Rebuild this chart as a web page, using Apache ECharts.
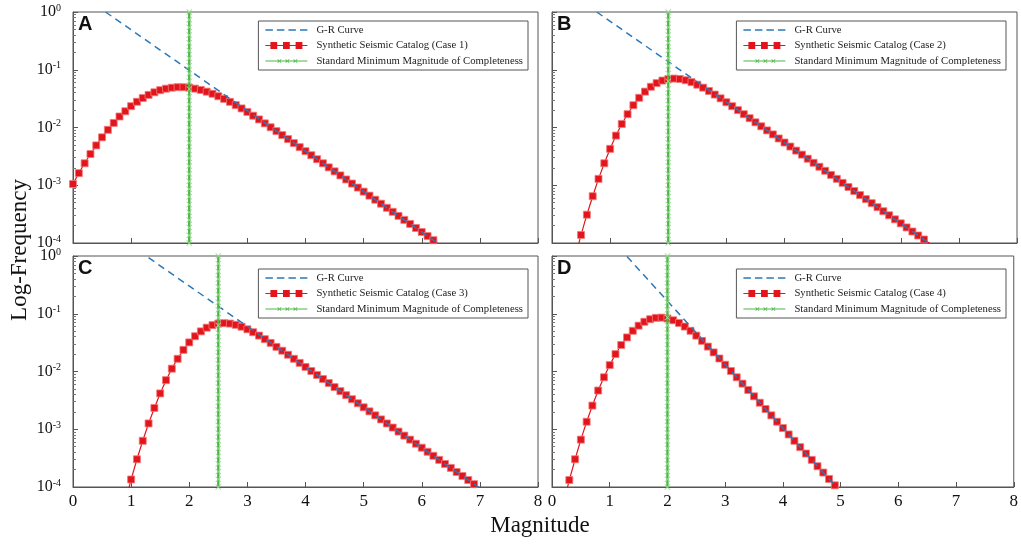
<!DOCTYPE html>
<html>
<head>
<meta charset="utf-8">
<title>Log-Frequency vs Magnitude</title>
<script src="https://cdn.jsdelivr.net/npm/echarts@6/dist/echarts.min.js"></script>
<style>
  html, body { margin: 0; padding: 0; background: #fff; }
  #chart { width: 1021px; height: 545px; }
</style>
</head>
<body>
<div id="chart"></div>
<script>
// magnitude grid shared by all four cases (step 0.1)
var magnitudes = [
    0.0, 0.1, 0.2, 0.3, 0.4, 0.5, 0.6, 0.7, 0.8, 0.9,
    1.0, 1.1, 1.2, 1.3, 1.4, 1.5, 1.6, 1.7, 1.8, 1.9,
    2.0, 2.1, 2.2, 2.3, 2.4, 2.5, 2.6, 2.7, 2.8, 2.9,
    3.0, 3.1, 3.2, 3.3, 3.4, 3.5, 3.6, 3.7, 3.8, 3.9,
    4.0, 4.1, 4.2, 4.3, 4.4, 4.5, 4.6, 4.7, 4.8, 4.9,
    5.0, 5.1, 5.2, 5.3, 5.4, 5.5, 5.6, 5.7, 5.8, 5.9,
    6.0, 6.1, 6.2, 6.3, 6.4, 6.5, 6.6, 6.7, 6.8, 6.9, 7.0
];

// synthetic catalogs, frequency per magnitude bin (first value sits at the given start index)
var catalogA_start = 0;   // M = 0.0
var catalogA = [
    1.05e-3, 1.62e-3, 2.40e-3, 3.47e-3, 4.90e-3, 6.76e-3, 9.12e-3, 1.20e-2, 1.55e-2, 1.91e-2,
    2.34e-2, 2.79e-2, 3.24e-2, 3.67e-2, 4.07e-2, 4.43e-2, 4.70e-2, 4.89e-2, 4.99e-2, 4.98e-2,
    4.89e-2, 4.71e-2, 4.47e-2, 4.17e-2, 3.84e-2, 3.48e-2, 3.13e-2, 2.78e-2, 2.44e-2, 2.14e-2,
    1.86e-2, 1.60e-2, 1.38e-2, 1.18e-2, 1.01e-2, 8.65e-3, 7.38e-3, 6.30e-3, 5.37e-3, 4.57e-3,
    3.89e-3, 3.31e-3, 2.82e-3, 2.40e-3, 2.04e-3, 1.74e-3, 1.48e-3, 1.26e-3, 1.07e-3, 9.12e-4,
    7.76e-4, 6.61e-4, 5.62e-4, 4.79e-4, 4.07e-4, 3.47e-4, 2.95e-4, 2.51e-4, 2.14e-4, 1.82e-4,
    1.55e-4, 1.32e-4, 1.12e-4, 9.55e-5
];
var catalogB_start = 4;   // M = 0.4
var catalogB = [
    5.75e-5, 1.38e-4, 3.09e-4, 6.46e-4, 1.29e-3, 2.40e-3,
    4.27e-3, 7.24e-3, 1.15e-2, 1.70e-2, 2.43e-2, 3.27e-2, 4.18e-2, 5.07e-2, 5.87e-2, 6.50e-2,
    6.90e-2, 7.03e-2, 6.92e-2, 6.58e-2, 6.10e-2, 5.51e-2, 4.90e-2, 4.29e-2, 3.72e-2, 3.20e-2,
    2.74e-2, 2.34e-2, 2.00e-2, 1.70e-2, 1.45e-2, 1.23e-2, 1.05e-2, 8.91e-3, 7.59e-3, 6.46e-3,
    5.50e-3, 4.68e-3, 3.98e-3, 3.39e-3, 2.88e-3, 2.45e-3, 2.09e-3, 1.78e-3, 1.51e-3, 1.29e-3,
    1.10e-3, 9.33e-4, 7.94e-4, 6.76e-4, 5.75e-4, 4.90e-4, 4.17e-4, 3.55e-4, 3.02e-4, 2.57e-4,
    2.19e-4, 1.86e-4, 1.58e-4, 1.35e-4, 1.15e-4, 9.77e-5
];
var catalogC_start = 9;   // M = 0.9
var catalogC = [
    5.62e-5,
    1.35e-4, 3.02e-4, 6.31e-4, 1.26e-3, 2.34e-3, 4.17e-3, 7.08e-3, 1.12e-2, 1.66e-2, 2.37e-2,
    3.19e-2, 4.08e-2, 4.95e-2, 5.74e-2, 6.35e-2, 6.75e-2, 6.87e-2, 6.76e-2, 6.43e-2, 5.96e-2,
    5.38e-2, 4.79e-2, 4.19e-2, 3.63e-2, 3.13e-2, 2.67e-2, 2.29e-2, 1.95e-2, 1.66e-2, 1.41e-2,
    1.20e-2, 1.02e-2, 8.71e-3, 7.41e-3, 6.31e-3, 5.37e-3, 4.57e-3, 3.89e-3, 3.31e-3, 2.82e-3,
    2.40e-3, 2.04e-3, 1.74e-3, 1.48e-3, 1.26e-3, 1.07e-3, 9.12e-4, 7.76e-4, 6.61e-4, 5.62e-4,
    4.79e-4, 4.07e-4, 3.47e-4, 2.95e-4, 2.51e-4, 2.14e-4, 1.82e-4, 1.55e-4, 1.32e-4, 1.12e-4,
    9.55e-5
];
var catalogD_start = 2;   // M = 0.2
var catalogD = [
    5.37e-5, 1.32e-4, 3.02e-4, 6.61e-4, 1.35e-3, 2.57e-3, 4.68e-3, 7.94e-3,
    1.29e-2, 2.00e-2, 2.88e-2, 3.89e-2, 5.07e-2, 6.22e-2, 7.26e-2, 8.04e-2, 8.49e-2, 8.57e-2,
    8.30e-2, 7.71e-2, 6.92e-2, 6.00e-2, 5.07e-2, 4.18e-2, 3.39e-2, 2.70e-2, 2.14e-2, 1.68e-2,
    1.31e-2, 1.02e-2, 7.94e-3, 6.17e-3, 4.79e-3, 3.72e-3, 2.88e-3, 2.24e-3, 1.74e-3, 1.35e-3,
    1.05e-3, 8.13e-4, 6.31e-4, 4.90e-4, 3.80e-4, 2.95e-4, 2.29e-4, 1.78e-4, 1.38e-4, 1.07e-4,
    8.32e-5
];

// G-R curves: [magnitude, frequency] end points of the straight log-linear line
var grA = [[0.56, 1.0], [6.3, 9.55e-5]];
var grB = [[0.77, 1.0], [6.5, 9.77e-5]];
var grC = [[1.3, 0.933], [7.0, 9.55e-5]];
var grD = [[1.3, 0.977], [5.0, 8.32e-5]];

// minimum magnitude of completeness per case
var mcValues = [2.0, 2.0, 2.5, 2.0];
// frequency levels of the markers along the Mc line
var mcLevels = [
    1.0, 0.736, 0.541, 0.398, 0.293, 0.215, 0.158, 0.117, 0.0858, 0.0631,
    0.0464, 0.0341, 0.0251, 0.0185, 0.0136, 0.01, 0.00736, 0.00541, 0.00398, 0.00293,
    0.00215, 0.00158, 0.00117, 0.000858, 0.000631, 0.000464, 0.000341, 0.000251, 0.000185, 0.000136,
    0.0001
];

var panelLabels = ['A', 'B', 'C', 'D'];
var caseNames = [
    'Synthetic Seismic Catalog (Case 1)',
    'Synthetic Seismic Catalog (Case 2)',
    'Synthetic Seismic Catalog (Case 3)',
    'Synthetic Seismic Catalog (Case 4)'
];
var grName = 'G-R Curve';
var mcName = 'Standard Minimum Magnitude of Completeness';
var xTicks = [0, 1, 2, 3, 4, 5, 6, 7, 8];

var catalogs = [catalogA, catalogB, catalogC, catalogD];
var starts = [catalogA_start, catalogB_start, catalogC_start, catalogD_start];
var grs = [grA, grB, grC, grD];

var SERIF = '"Liberation Serif", "Times New Roman", serif';
var RED = '#e2151c';
var BLUE = '#2b78b8';
var GREEN = '#4db748';
var AXIS = '#555';

// layout of the 2x2 panels
var panels = [
    { left: 73,  top: 12,  legendRight: 493, legendTop: 21 },
    { left: 552, top: 12,  legendRight: 15,  legendTop: 21 },
    { left: 73,  top: 256, legendRight: 493, legendTop: 269 },
    { left: 552, top: 256, legendRight: 15,  legendTop: 269 }
];
var panelW = 465, panelH = 231;

var xMark = 'path://M0,1L1,0L5,4L9,0L10,1L6,5L10,9L9,10L5,6L1,10L0,9L4,5Z';

function smallX(cx) {
    var p = [[-2, -1.6], [-1.6, -2], [0, -0.4], [1.6, -2], [2, -1.6], [0.4, 0],
             [2, 1.6], [1.6, 2], [0, 0.4], [-1.6, 2], [-2, 1.6], [-0.4, 0]];
    return 'M' + p.map(function (q) { return (cx + q[0]) + ',' + (5 + q[1]); }).join('L') + 'Z';
}
var iconGR = 'path://M0,0M42,10M0,4.2h7.5v1.6h-7.5zM11.5,4.2h7.5v1.6h-7.5zM23,4.2h7.5v1.6h-7.5zM34.5,4.2h7.5v1.6h-7.5z';
var iconCat = 'path://M0,0M42,10M0,4.4h42v1.2h-42zM5,1.6h6.8v6.8h-6.8zM17.6,1.6h6.8v6.8h-6.8zM30.2,1.6h6.8v6.8h-6.8z';
var iconMc = 'path://M0,0M42,10M0,4.5h42v1h-42z' + smallX(14) + smallX(22) + smallX(30);

var grids = [], xAxes = [], yAxes = [], series = [], legends = [], titles = [];

panels.forEach(function (p, i) {
    var bottomRow = i >= 2;
    var leftCol = i % 2 === 0;

    grids.push({
        left: p.left, top: p.top, width: panelW, height: panelH,
        show: true, borderColor: AXIS, borderWidth: 1, backgroundColor: '#fff'
    });

    xAxes.push({
        type: 'value', gridIndex: i, min: 0, max: 8, interval: 1,
        axisLine: { show: true, lineStyle: { color: AXIS } },
        axisTick: { show: true, inside: true, length: 5, lineStyle: { color: AXIS } },
        axisLabel: {
            show: bottomRow, fontFamily: SERIF, fontSize: 17, color: '#111', margin: 6,
            formatter: function (v) { return xTicks.indexOf(v) >= 0 ? String(v) : ''; }
        },
        splitLine: { show: false }
    });

    yAxes.push({
        type: 'log', logBase: 10, gridIndex: i, min: 1e-4, max: 1,
        axisLine: { show: true, lineStyle: { color: AXIS } },
        axisTick: { show: true, inside: true, length: 5, lineStyle: { color: AXIS } },
        minorTick: { show: true, splitNumber: 9, length: 3, lineStyle: { color: '#777' } },
        axisLabel: {
            show: leftCol, margin: 12,
            formatter: function (v) {
                var e = Math.round(Math.log(v) / Math.LN10);
                return '{b|10}{e|' + e + '}';
            },
            rich: {
                b: { fontFamily: SERIF, fontSize: 16, color: '#111', lineHeight: 18 },
                e: { fontFamily: SERIF, fontSize: 10, color: '#111', verticalAlign: 'top', lineHeight: 10 }
            }
        },
        splitLine: { show: false }
    });

    var cat = catalogs[i].map(function (f, k) {
        return [magnitudes[starts[i] + k], f];
    });
    series.push({
        name: caseNames[i], type: 'line', xAxisIndex: i, yAxisIndex: i,
        data: cat, z: 2,
        symbol: 'rect', symbolSize: 7,
        itemStyle: { color: RED, borderColor: '#f27a7a', borderWidth: 0.8 },
        lineStyle: { color: RED, width: 1.2 }
    });
    series.push({
        name: grName, type: 'line', xAxisIndex: i, yAxisIndex: i,
        data: grs[i], z: 3, showSymbol: false, symbol: 'none',
        itemStyle: { color: BLUE },
        lineStyle: { color: BLUE, width: 1.5, type: [7, 5] }
    });
    series.push({
        name: mcName, type: 'line', xAxisIndex: i, yAxisIndex: i,
        data: mcLevels.map(function (y) { return [mcValues[i], y]; }), z: 4,
        symbol: xMark, symbolSize: 6,
        itemStyle: { color: '#95dc8f' },
        lineStyle: { color: GREEN, width: 2.4 }
    });

    legends.push({
        orient: 'vertical', right: p.legendRight, top: p.legendTop,
        itemWidth: 42, itemHeight: 10, itemGap: 3.5,
        padding: [3, 5, 3, 7],
        borderColor: '#555', borderWidth: 1, backgroundColor: '#fff',
        selectedMode: false,
        textStyle: { fontFamily: SERIF, fontSize: 10.7, lineHeight: 12, color: '#222', padding: [0, 0, 0, 4] },
        data: [
            { name: grName, icon: iconGR, itemStyle: { color: BLUE, borderWidth: 0 } },
            { name: caseNames[i], icon: iconCat, itemStyle: { color: RED, borderWidth: 0 } },
            { name: mcName, icon: iconMc, itemStyle: { color: GREEN, borderWidth: 0 } }
        ]
    });

    titles.push({
        text: panelLabels[i], left: p.left + 5, top: p.top + 2, padding: 0,
        textStyle: { fontFamily: '"Liberation Sans", Arial, sans-serif', fontWeight: 'bold', fontSize: 20, color: '#111' }
    });
});

var myChart = echarts.init(document.getElementById('chart'), null, { renderer: 'canvas' });
myChart.setOption({
    animation: false,
    backgroundColor: '#fff',
    title: titles,
    grid: grids,
    xAxis: xAxes,
    yAxis: yAxes,
    legend: legends,
    series: series,
    graphic: [
        {
            type: 'text', x: 20, y: 250, rotation: Math.PI / 2,
            style: { text: 'Log-Frequency', fontFamily: SERIF, fontSize: 23, fill: '#111', align: 'center', verticalAlign: 'middle' }
        },
        {
            type: 'text', x: 540, y: 526,
            style: { text: 'Magnitude', fontFamily: SERIF, fontSize: 23, fill: '#111', align: 'center', verticalAlign: 'middle' }
        }
    ]
});
</script>
</body>
</html>
